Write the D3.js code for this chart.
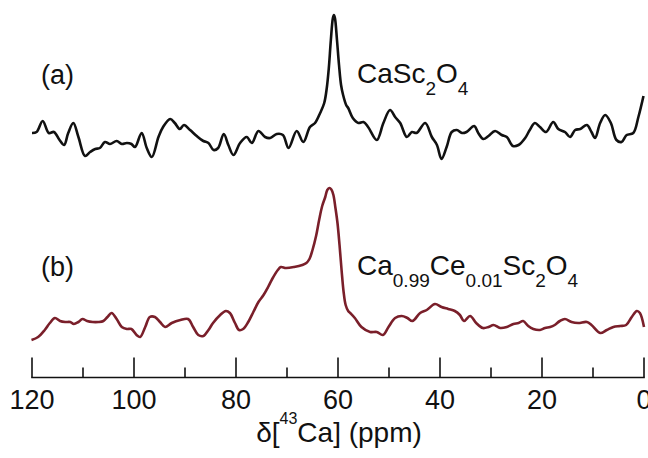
<!DOCTYPE html>
<html><head><meta charset="utf-8">
<script src="https://cdn.jsdelivr.net/npm/d3@7"></script>
<style>html,body{margin:0;padding:0;background:#fff}svg{display:block}text{font-family:"Liberation Sans",Arial,sans-serif;fill:#111}</style>
</head><body><svg id="c" width="648" height="458"></svg>
<script>
// Trace (a) CaSc2O4: [ppm, intensity a.u.]
const ppmA = [120.0,119.1,117.9,116.7,115.7,114.6,113.7,112.9,111.9,110.9,109.6,108.6,107.6,106.7,105.7,104.7,103.4,102.4,101.4,100.5,99.8,98.5,97.5,96.5,95.2,94.3,92.9,92.0,91.0,90.2,89.0,87.7,86.4,85.4,84.4,83.5,82.4,81.5,80.5,79.2,77.9,76.9,75.6,74.3,73.3,72.0,70.8,69.7,68.1,66.8,65.5,64.5,63.5,62.7,62.2,61.8,61.4,61.0,60.8,60.6,60.2,59.8,59.4,59.0,58.4,58.0,57.1,56.0,55.0,54.1,52.4,51.1,49.8,48.8,47.8,46.5,45.5,44.6,42.9,41.6,40.6,39.7,38.7,37.7,36.7,35.7,34.8,33.3,32.5,31.5,30.5,29.2,27.9,26.9,25.7,24.6,23.3,22.4,21.4,20.4,19.2,17.8,16.8,15.5,14.5,13.5,12.5,11.2,10.3,9.6,8.6,7.6,6.5,5.4,4.4,3.4,2.1,1.1,0.1];
const intA = [7,8,19,7,8,0,-5,7,17,3,-16,-12,-9,-8,-2,-4,-1,-4,-3,-4,-7,7,-8,-17,3,13,21,17,11,15,10,4,-1,-3,-10,-8,6,-5,-15,-3,3,-3,9,3,2,6,5,-8,9,-2,13,17,27,37,52,72,100,122,125,122,100,75,55,45,35,32,22,17,18,13,0,17,30,23,17,3,8,7,17,3,-5,-19,-7,8,10,7,8,14,7,1,4,9,5,3,-6,-5,2,10,17,13,8,18,11,8,3,10,11,15,8,2,17,25,17,0,-2,5,7,23,44];
// Trace (b) Ca0.99Ce0.01Sc2O4
const ppmB = [120.1,118.8,117.5,116.5,115.5,114.5,113.5,112.5,111.8,110.9,110.1,109.2,108.1,107.0,106.0,105.2,104.4,103.4,102.4,101.4,100.5,99.5,98.8,97.8,96.9,95.9,94.9,93.9,92.6,90.9,89.4,88.4,87.4,86.4,85.4,84.5,83.1,82.0,81.2,80.2,79.4,78.6,77.6,76.6,75.6,74.6,73.7,72.9,71.8,71.2,70.2,68.6,67.0,66.2,65.6,65.0,64.3,63.7,63.1,62.5,62.1,61.7,61.3,60.9,60.5,60.1,59.7,59.3,58.9,58.5,58.0,57.6,56.7,55.4,53.7,52.4,51.2,50.1,48.8,47.5,46.4,45.4,43.9,42.6,41.0,39.7,38.4,37.1,36.1,35.3,34.1,32.9,31.6,30.5,29.5,28.2,26.9,25.6,24.6,23.7,22.7,21.7,20.4,19.4,18.4,17.5,16.5,15.5,14.2,12.9,11.2,10.3,8.6,7.3,6.0,4.7,3.5,2.4,1.4,0.8,0.0];
const intB = [-15,-12,-5,2,7,4,3,3,1,3,6,4,3,3,4,8,12,6,-2,-4,-4,-10,-12,-2,8,8,3,-2,2,5,6,-2,-10,-11,-5,2,10,14,12,2,-5,-4,3,13,23,30,38,46,55,58,57,58,60,62,66,75,89,105,119,128,135,137,135.5,130,117,102,80,55,33,20,14,12,7,-2,-7,-7,-10,-2,7,9,7,4,12,15,21,18,16,14,10,4,9,2,-3,-2,0,-3,-2,1,2,4,-1,-4,-5,-3,-2,0,4,6,3,2,3,0,-8,-5,-2,-1,0,8,14,12,-2];
const tickVals = [120,100,80,60,40,20,0];
const minorVals = [110,90,70,50,30,10];

const svg = d3.select("#c");
const x = d3.scaleLinear().domain([120,0]).range([32,644]);
const yA = d3.scaleLinear().domain([0,125]).range([140,15]);
const yB = d3.scaleLinear().domain([0,137]).range([325,188]);

const lineA = d3.line().x((d,i)=>x(ppmA[i])).y(d=>yA(d)).curve(d3.curveCatmullRom.alpha(0.5));
const lineB = d3.line().x((d,i)=>x(ppmB[i])).y(d=>yB(d)).curve(d3.curveCatmullRom.alpha(0.5));
svg.append("path").attr("d",lineA(intA)).attr("fill","none").attr("stroke","#111").attr("stroke-width",2.6).attr("stroke-linejoin","round");
svg.append("path").attr("d",lineB(intB)).attr("fill","none").attr("stroke","#7a1f2a").attr("stroke-width",2.6).attr("stroke-linejoin","round");

// axis
const axY = 377.5;
const g = svg.append("g");
g.append("line").attr("x1",x(120)-0.8).attr("x2",x(0)+0.8).attr("y1",axY).attr("y2",axY).attr("stroke","#111").attr("stroke-width",1.6);
g.selectAll(".mj").data(tickVals).enter().append("line").attr("x1",d=>x(d)).attr("x2",d=>x(d)).attr("y1",axY).attr("y2",axY-20).attr("stroke","#111").attr("stroke-width",1.6);
g.selectAll(".mn").data(minorVals).enter().append("line").attr("x1",d=>x(d)).attr("x2",d=>x(d)).attr("y1",axY).attr("y2",axY-10).attr("stroke","#111").attr("stroke-width",1.6);
g.selectAll(".tl").data(tickVals).enter().append("text").attr("x",d=>x(d)).attr("y",409).attr("text-anchor","middle").attr("font-size",27).text(d=>d);

const t = svg.append("text").attr("x",339).attr("y",442).attr("text-anchor","middle").attr("font-size",28);
t.append("tspan").text("δ[");
t.append("tspan").attr("font-size",16).attr("dy",-18).text("43");
t.append("tspan").attr("dy",18).text("Ca] (ppm)");

svg.append("text").attr("x",41).attr("y",84).attr("font-size",27).text("(a)");
const la = svg.append("text").attr("x",357).attr("y",83).attr("font-size",28);
la.append("tspan").text("CaSc");
la.append("tspan").attr("font-size",19).attr("dy",12).text("2");
la.append("tspan").attr("dy",-12).text("O");
la.append("tspan").attr("font-size",19).attr("dy",12).text("4");

svg.append("text").attr("x",41).attr("y",276).attr("font-size",27).text("(b)");
const lb = svg.append("text").attr("x",357).attr("y",275).attr("font-size",28);
lb.append("tspan").text("Ca");
lb.append("tspan").attr("font-size",19).attr("dy",12).text("0.99");
lb.append("tspan").attr("dy",-12).text("Ce");
lb.append("tspan").attr("font-size",19).attr("dy",12).text("0.01");
lb.append("tspan").attr("dy",-12).text("Sc");
lb.append("tspan").attr("font-size",19).attr("dy",12).text("2");
lb.append("tspan").attr("dy",-12).text("O");
lb.append("tspan").attr("font-size",19).attr("dy",12).text("4");
</script></body></html>
